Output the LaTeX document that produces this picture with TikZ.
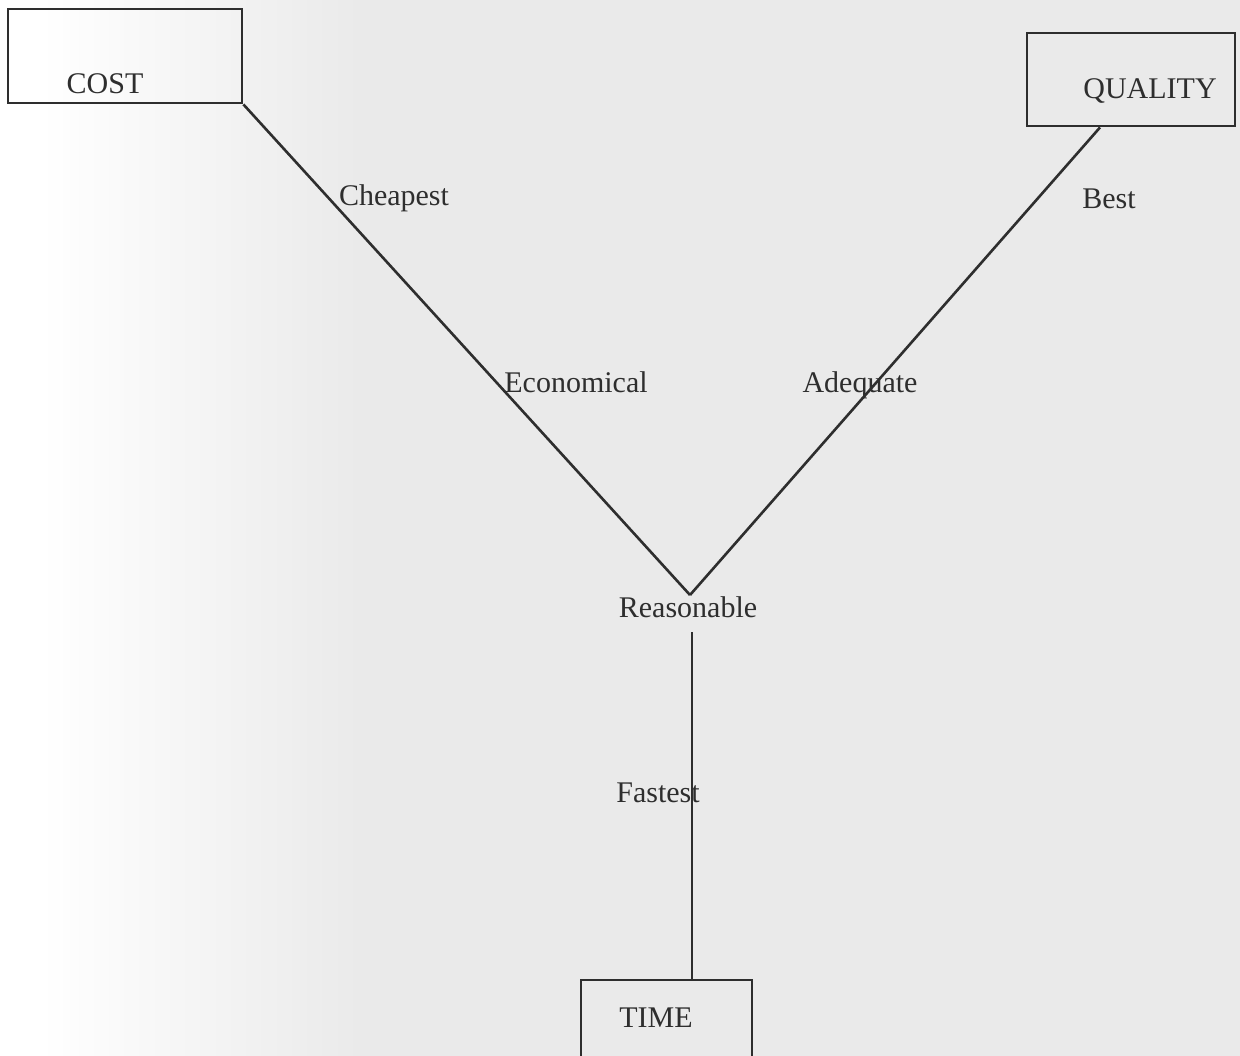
\documentclass[tikz,border=0pt]{standalone}
\usepackage{fontspec}
\setmainfont{Liberation Serif}
\usetikzlibrary{calc}
\definecolor{ink}{HTML}{2E2E2E}
\definecolor{paper}{HTML}{EAEAEA}
\tikzset{
  box/.style={draw=ink, line width=1.4pt, rectangle, inner sep=0pt},
  lbl/.style={text=ink, font=\fontsize{15}{18}\selectfont, inner sep=0pt, anchor=base},
  conn/.style={draw=ink, line width=1.3pt},
}
\begin{document}
\begin{tikzpicture}[x=0.5pt,y=-0.5pt]
\useasboundingbox (0,0) rectangle (1240,1055);
\clip (0,0) rectangle (1240,1055);
\fill[paper] (-10,-10) rectangle (1250,1065);
\shade[left color=white, right color=paper] (40,-10) rectangle (360,1065);
\fill[white] (-10,-10) rectangle (41,1065);
% boxes
\node[box, minimum width=117pt, minimum height=47pt] (cost) at (125,56) {};
\node[box, minimum width=104pt, minimum height=46.5pt] (quality) at (1131,79.5) {};
\node[box, minimum width=85.5pt, minimum height=46pt] (time) at (666.5,1026) {};
% labels
\node[lbl] (costtxt) at (105,93) {COST};
\node[lbl] (qualtxt) at (1150,98) {QUALITY};
\node[lbl] (timetxt) at (656,1027) {TIME};
\node[lbl] (cheap) at (394,205) {Cheapest};
\node[lbl] (best) at (1109,208) {Best};
\node[lbl] (econ) at (576,392) {Economical};
\node[lbl] (adeq) at (860,392) {Adequate};
\node[lbl] (reas) at (688,617) {Reasonable};
\node[lbl] (fast) at (658,802) {Fastest};
% connectors
\coordinate (v) at (690,595);
\coordinate (vtop) at (692,632);
\draw[conn] (cost.south east) -- (v);
\draw[conn] ($(quality.south west)!0.353!(quality.south east)$) -- (v);
\draw[conn] (vtop) -- (vtop |- time.north);
\end{tikzpicture}
\end{document}
